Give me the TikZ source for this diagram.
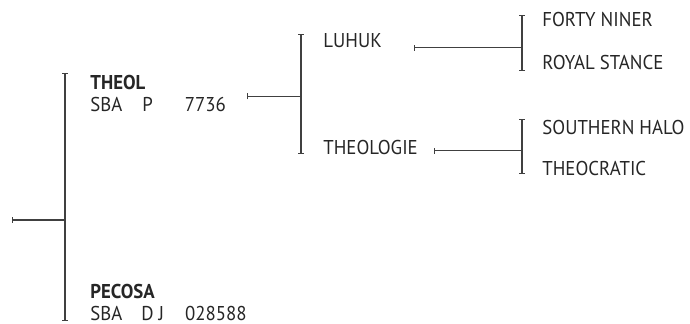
\documentclass[tikz,border=0pt]{standalone}
\usepackage{fontspec}
\setmainfont[FakeStretch=0.94]{PT Sans}
\usetikzlibrary{arrows.meta}

\begin{document}
\begin{tikzpicture}[x=0.5pt,y=-0.5pt,
  link/.style={draw=black!75,line width=0.65pt},
  tick/.style={link,{Bar[width=3pt]}-},
  bracket/.style={link,{Bar[width=3pt]}-{Bar[width=3pt]}},
  every node/.style={inner sep=0pt,anchor=base west,text=black!85,
    font=\fontsize{10}{11}\selectfont}]
  \useasboundingbox (0,0) rectangle (690,324);

  % first generation: sire above, dam below
  \node[align=left] (theol) at (90,112)
    {\textbf{THEOL}\\SBA\hspace{10pt}P\hspace{16pt}7736};
  \node[align=left] (pecosa) at (90,320.5)
    {\textbf{PECOSA}\\SBA\hspace{9.5pt}D J\hspace{10.5pt}028588};

  % second generation
  \node (luhuk) at (323,48) {LUHUK};
  \node (theologie) at (323,155) {THEOLOGIE};

  % third generation
  \node (forty) at (542,27) {FORTY NINER};
  \node (royal) at (542,70) {ROYAL STANCE};
  \node (southern) at (542,135) {SOUTHERN HALO};
  \node (theocratic) at (542,176) {THEOCRATIC};

  % bracket ends and junctions
  \coordinate (root) at (12,220);
  \coordinate (b0t) at (65,73);
  \coordinate (b0b) at (65,321);
  \coordinate (s1) at (247,96.5);
  \coordinate (b1t) at (301,34);
  \coordinate (b1b) at (301,154);
  \coordinate (s2a) at (414,47.7);
  \coordinate (b2at) at (522,15);
  \coordinate (b2ab) at (522,71);
  \coordinate (s2b) at (434,150.7);
  \coordinate (b2bt) at (522,119);
  \coordinate (b2bb) at (522,174);

  \draw[bracket] (b0t) -- (b0b);
  \draw[tick] (root) -- (root -| b0t);
  \draw[bracket] (b1t) -- (b1b);
  \draw[tick] (s1) -- (s1 -| b1t);
  \draw[bracket] (b2at) -- (b2ab);
  \draw[tick] (s2a) -- (s2a -| b2at);
  \draw[bracket] (b2bt) -- (b2bb);
  \draw[tick] (s2b) -- (s2b -| b2bt);
\end{tikzpicture}
\end{document}
